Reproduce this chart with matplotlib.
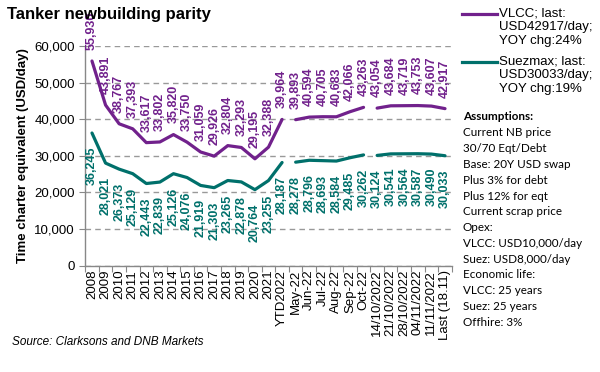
import numpy as np
import matplotlib
matplotlib.use("Agg")
import matplotlib.pyplot as plt
from matplotlib.lines import Line2D
from matplotlib.ticker import FuncFormatter, MultipleLocator

categories = ["2008", "2009", "2010", "2011", "2012", "2013", "2014", "2015", "2016",
              "2017", "2018", "2019", "2020", "2021", "YTD2022", "May-22", "Jun-22",
              "Jul-22", "Aug-22", "Sep-22", "Oct-22", "14/10/2022", "21/10/2022",
              "28/10/2022", "04/11/2022", "11/11/2022", "Last (18.11)"]
vlcc = [55930, 43891, 38767, 37393, 33617, 33802, 35820, 33750, 31059, 29926,
        32804, 32293, 29195, 32388, 39964, 39893, 40594, 40705, 40683, 42066,
        43263, 43054, 43684, 43719, 43753, 43607, 42917]
suezmax = [36245, 28021, 26373, 25129, 22443, 22839, 25126, 24076, 21919, 21303,
           23265, 22878, 20764, 23255, 28187, 28278, 28796, 28693, 28584, 29485,
           30262, 30124, 30541, 30564, 30587, 30490, 30033]
segments = [(0, 15), (15, 21), (21, 27)]

legend_vlcc = "VLCC; last:\nUSD42917/day;\nYOY chg:24%"
legend_suez = "Suezmax; last:\nUSD30033/day;\nYOY chg:19%"
assumptions = ["Current NB price", "30/70 Eqt/Debt", "Base: 20Y USD swap",
               "Plus 3% for debt", "Plus 12% for eqt", "Current scrap price", "Opex:",
               "VLCC: USD10,000/day", "Suez: USD8,000/day", "Economic life:",
               "VLCC: 25 years", "Suez: 25 years", "Offhire: 3%"]

PURPLE = "#71218C"
TEAL = "#00706B"
plt.rcParams['font.family'] = ['Liberation Sans', 'DejaVu Sans']

fig = plt.figure(figsize=(6.0, 3.72), dpi=100)
ax = fig.add_axes([0.142, 0.286, 0.611, 0.590])
x = np.arange(len(categories))

for s, e in segments:
    ax.plot(x[s:e], vlcc[s:e], color=PURPLE, lw=2.3, solid_capstyle='round', solid_joinstyle='round', zorder=3)
    ax.plot(x[s:e], suezmax[s:e], color=TEAL, lw=2.3, solid_capstyle='round', solid_joinstyle='round', zorder=3)

for xi, v in zip(x, vlcc):
    ax.annotate(f"{v:,}", (xi, v), xytext=(0, 8), textcoords='offset points',
                rotation=90, ha='center', va='bottom', color=PURPLE, fontsize=9,
                fontweight='bold', annotation_clip=False)
for xi, v in zip(x, suezmax):
    ax.annotate(f"{v:,}", (xi, v), xytext=(0, -10), textcoords='offset points',
                rotation=90, ha='center', va='top', color=TEAL, fontsize=9,
                fontweight='bold', annotation_clip=False)

ax.set_xlim(-0.5, len(categories) - 0.5)
ax.set_ylim(0, 60000)
ax.yaxis.set_major_locator(MultipleLocator(10000))
ax.yaxis.set_major_formatter(FuncFormatter(lambda v, p: f"{int(v):,}"))
ax.set_xticks(x)
ax.set_xticklabels(categories, rotation=90, fontsize=9.5)
ax.set_xticks(np.arange(-0.5, len(categories), 1), minor=True)
ax.tick_params(axis='x', which='major', length=0, pad=3)
ax.tick_params(axis='x', which='minor', length=4, color='#888888', width=0.8)
ax.tick_params(axis='y', labelsize=9.5, length=4, color='#888888', width=0.8)
ax.grid(axis='y', linestyle=(0, (4, 3)), color='#999999', lw=1.0)
ax.set_axisbelow(True)
for sp in ['top', 'right']:
    ax.spines[sp].set_visible(False)
for sp in ['left', 'bottom']:
    ax.spines[sp].set_color('#888888')
    ax.spines[sp].set_linewidth(1.0)
ax.set_ylabel("Time charter equivalent (USD/day)", fontsize=9.5, fontweight='bold', labelpad=4)

fig.text(0.012, 1 - 14 / 372, "Tanker newbuilding parity", fontsize=12, fontweight='bold',
         va='center', ha='left')
fig.text(0.02, 1 - 342 / 372, "Source: Clarksons and DNB Markets", fontsize=8.5,
         style='italic', va='center', ha='left')

# legend
fig.add_artist(Line2D([462 / 600, 497 / 600], [1 - 14 / 372] * 2, color=PURPLE, lw=2.3))
fig.text(499 / 600, 1 - 7 / 372, legend_vlcc, fontsize=9.5, va='top', ha='left', linespacing=1.22)
fig.add_artist(Line2D([462 / 600, 497 / 600], [1 - 62 / 372] * 2, color=TEAL, lw=2.3))
fig.text(499 / 600, 1 - 55 / 372, legend_suez, fontsize=9.5, va='top', ha='left', linespacing=1.22)

y0 = 117
fig.text(463 / 600, 1 - y0 / 372, "Assumptions:", fontsize=8.4, fontweight='bold',
         family=['Lato', 'DejaVu Sans'], va='center', ha='left')
for i, line in enumerate(assumptions):
    fig.text(463 / 600, 1 - (y0 + 15.8 * (i + 1)) / 372, line, fontsize=8.4,
             family=['Lato', 'DejaVu Sans'], va='center', ha='left')

fig.savefig("out.png", dpi=100)
